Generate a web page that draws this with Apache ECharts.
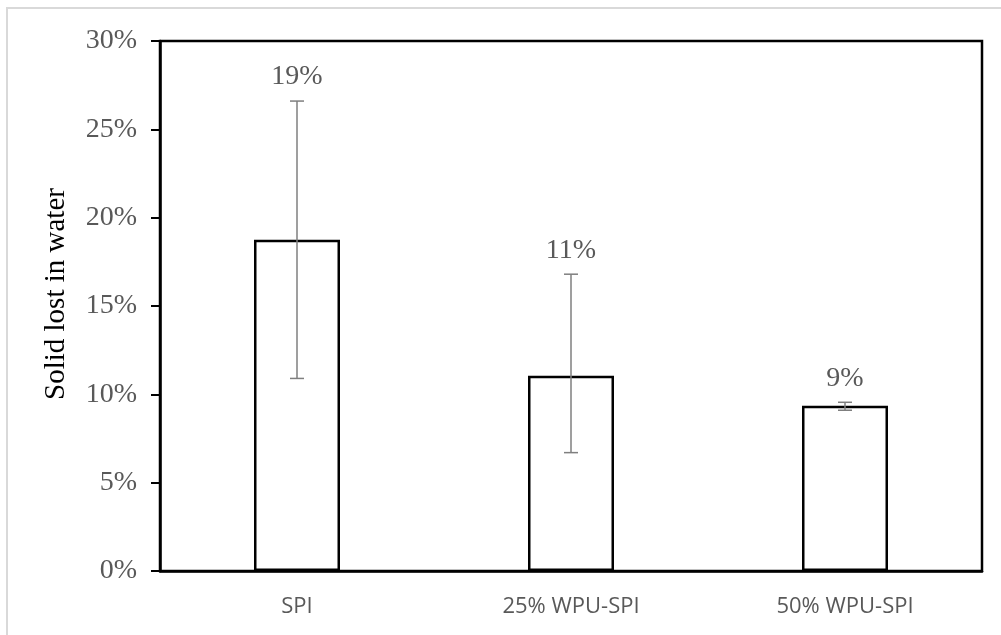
<!DOCTYPE html>
<html>
<head>
<meta charset="utf-8">
<script src="https://cdn.jsdelivr.net/npm/echarts@6/dist/echarts.min.js"></script>
<style>
html,body{margin:0;padding:0;background:#fff;}
#chart{width:1001px;height:635px;}
</style>
</head>
<body>
<div id="chart"></div>
<script>
var categories = ['SPI', '25% WPU-SPI', '50% WPU-SPI'];
var values = [18.75, 11.05, 9.35];
var errUpper = [26.6, 16.8, 9.55];
var errLower = [10.9, 6.7, 9.1];
var dataLabels = ['19%', '11%', '9%'];
var yTicks = { min: 0, max: 30, interval: 5 };
var yAxisTitle = 'Solid lost in water';

var errData = categories.map(function (c, i) { return [i, errLower[i], errUpper[i], dataLabels[i]]; });

var chart = echarts.init(document.getElementById('chart'));
chart.setOption({
  animation: false,
  backgroundColor: '#fff',
  grid: { left: 160, top: 41, right: 19, bottom: 64, show: true, borderColor: '#000', borderWidth: 2.5, backgroundColor: 'transparent' },
  graphic: [
    { type: 'rect', shape: { x: 7, y: 8, width: 1020, height: 660 }, style: { fill: 'none', stroke: '#d9d9d9', lineWidth: 2 }, silent: true, z: 0 },
    { type: 'text', x: 56, y: 294, rotation: Math.PI / 2, style: { text: yAxisTitle, font: '29px "Liberation Serif"', fill: '#000', align: 'center', verticalAlign: 'middle' }, z: 10 }
  ],
  xAxis: {
    type: 'category',
    data: categories,
    axisLine: { show: true, lineStyle: { color: '#000', width: 2.5 } },
    axisTick: { show: false },
    axisLabel: { color: '#595959', fontFamily: 'Open Sans', fontSize: 22, margin: 25 },
    splitLine: { show: false }
  },
  yAxis: {
    type: 'value',
    min: yTicks.min, max: yTicks.max, interval: yTicks.interval,
    axisLine: { show: true, lineStyle: { color: '#000', width: 2.5 } },
    axisTick: { show: true, inside: false, length: 9, lineStyle: { color: '#000', width: 2 } },
    axisLabel: { color: '#595959', fontFamily: 'Liberation Serif', fontSize: 28, margin: 23, formatter: '{value}%' },
    splitLine: { show: false }
  },
  series: [
    {
      type: 'bar',
      data: values,
      barWidth: 86,
      itemStyle: { color: '#fff', borderColor: '#000', borderWidth: 2.5 },
      z: 2
    },
    {
      type: 'custom',
      data: errData,
      z: 5,
      renderItem: function (params, api) {
        var i = api.value(0);
        var lo = api.coord([i, api.value(1)]);
        var hi = api.coord([i, api.value(2)]);
        var hw = 7;
        var s = { stroke: '#7f7f7f', lineWidth: 1.5 };
        return {
          type: 'group',
          children: [
            { type: 'line', shape: { x1: hi[0], y1: hi[1], x2: lo[0], y2: lo[1] }, style: s },
            { type: 'line', shape: { x1: hi[0] - hw, y1: hi[1], x2: hi[0] + hw, y2: hi[1] }, style: s },
            { type: 'line', shape: { x1: lo[0] - hw, y1: lo[1], x2: lo[0] + hw, y2: lo[1] }, style: s },
            { type: 'text', x: hi[0], y: hi[1] - 24, style: { text: dataLabels[i], font: '28px "Liberation Serif"', fill: '#595959', align: 'center', verticalAlign: 'middle' } }
          ]
        };
      }
    }
  ]
});
</script>
</body>
</html>
